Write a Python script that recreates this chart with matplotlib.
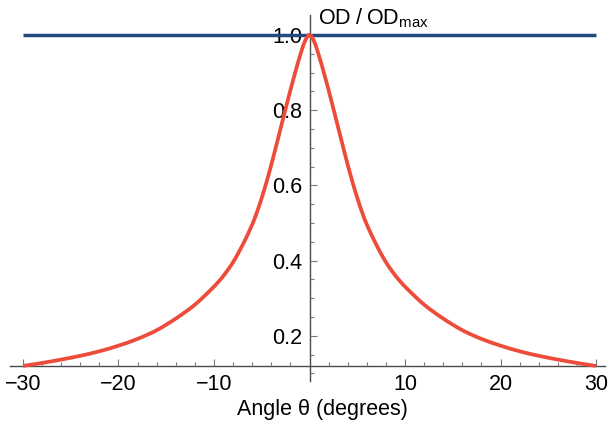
import matplotlib
matplotlib.use("Agg")
import matplotlib.pyplot as plt
from matplotlib.ticker import FixedLocator
from matplotlib.path import Path
from matplotlib.patches import PathPatch

plt.rcParams["font.family"] = ["Liberation Sans", "DejaVu Sans"]
plt.rcParams["mathtext.fontset"] = "custom"
plt.rcParams["mathtext.rm"] = "Liberation Sans"
plt.rcParams["mathtext.it"] = "Liberation Sans:italic"

# Normalised optical density versus tilt angle
theta_deg = [-30, -28, -26, -24, -22, -20, -18, -16, -14, -12, -10, -9, -8, -7, -6,
             -5.5, -5, -4.5, -4, -3.5, -3, -2.5, -2, -1.5, -1, -0.5, 0,
             0.5, 1, 1.5, 2, 2.5, 3, 3.5, 4, 4.5, 5, 5.5, 6, 7, 8, 9, 10,
             12, 14, 16, 18, 20, 22, 24, 26, 28, 30]
od_ratio = [0.120, 0.128, 0.137, 0.147, 0.159, 0.174, 0.192, 0.215, 0.246, 0.283, 0.331, 0.360, 0.396, 0.442, 0.496,
            0.529, 0.567, 0.609, 0.655, 0.704, 0.754, 0.804, 0.853, 0.900, 0.944, 0.982, 1.000,
            0.982, 0.944, 0.900, 0.853, 0.804, 0.754, 0.704, 0.655, 0.609, 0.567, 0.529, 0.496, 0.442, 0.396, 0.360, 0.331,
            0.283, 0.246, 0.215, 0.192, 0.174, 0.159, 0.147, 0.137, 0.128, 0.120]

# Reference level (maximum)
ref_theta = [-30, 30]
ref_level = [1.0, 1.0]

x_major = [-30, -20, -10, 10, 20, 30]
x_labels = ["\u221230", "\u221220", "\u221210", "10", "20", "30"]
x_minor = [v for v in range(-30, 31, 2) if v % 10 != 0]
y_major = [0.2, 0.4, 0.6, 0.8, 1.0]
y_labels = ["0.2", "0.4", "0.6", "0.8", "1.0"]
y_minor = [0.10, 0.15, 0.25, 0.30, 0.35, 0.45, 0.50, 0.55, 0.65, 0.70, 0.75, 0.85, 0.90, 0.95]


def smooth_path(xs, ys):
    """Cubic Hermite (Bezier) path through the given points."""
    n = len(xs)
    slopes = []
    for i in range(n):
        a = max(i - 1, 0)
        b = min(i + 1, n - 1)
        slopes.append((ys[b] - ys[a]) / (xs[b] - xs[a]))
    verts = [(xs[0], ys[0])]
    codes = [Path.MOVETO]
    for i in range(n - 1):
        h = xs[i + 1] - xs[i]
        verts += [(xs[i] + h / 3, ys[i] + slopes[i] * h / 3),
                  (xs[i + 1] - h / 3, ys[i + 1] - slopes[i + 1] * h / 3),
                  (xs[i + 1], ys[i + 1])]
        codes += [Path.CURVE4] * 3
    return Path(verts, codes)


W, H = 611, 428
fig = plt.figure(figsize=(W / 100, H / 100), dpi=100)
ax = fig.add_axes([10 / W, 47 / H, 595 / W, 366 / H])

ax.plot(ref_theta, ref_level, color="#234A7D", lw=2.5, zorder=3, solid_capstyle="butt")
ax.add_patch(PathPatch(smooth_path(theta_deg, od_ratio), facecolor="none",
                       edgecolor="#EE4C3B", lw=2.7, zorder=4, capstyle="butt",
                       transform=ax.transData))

ax.set_xlim(-31.36, 30.94)
ax.set_ylim(0.080, 1.053)

axis_col = "#4a4a4a"
for side in ("top", "right"):
    ax.spines[side].set_visible(False)
ax.spines["left"].set_position(("data", 0))
ax.spines["bottom"].set_position(("data", 0.12))
for side in ("left", "bottom"):
    ax.spines[side].set_color(axis_col)
    ax.spines[side].set_linewidth(1.0)
    ax.spines[side].set_zorder(1)

ax.xaxis.set_major_locator(FixedLocator(x_major))
ax.xaxis.set_minor_locator(FixedLocator(x_minor))
ax.set_xticklabels(x_labels)
ax.yaxis.set_major_locator(FixedLocator(y_major))
ax.yaxis.set_minor_locator(FixedLocator(y_minor))
ax.set_yticklabels(y_labels)

fs = 15.5
ax.tick_params(axis="both", which="major", direction="in", length=5, width=0.8,
               color="#777777", labelsize=fs, labelcolor="black")
ax.tick_params(axis="both", which="minor", direction="in", length=3, width=0.8, color="#777777")
ax.tick_params(axis="x", which="major", pad=6)
ax.tick_params(axis="y", which="major", pad=5)

ax.text(0.85, 1.045, r"OD$\;/\;$OD$_{\mathrm{max}}$", fontsize=fs, ha="left", va="center",
        clip_on=False)
fig.text(322 / W, 1 - 409 / H, "Angle \u03b8 (degrees)", fontsize=fs, ha="center", va="center")

fig.savefig("out.png", dpi=100)
